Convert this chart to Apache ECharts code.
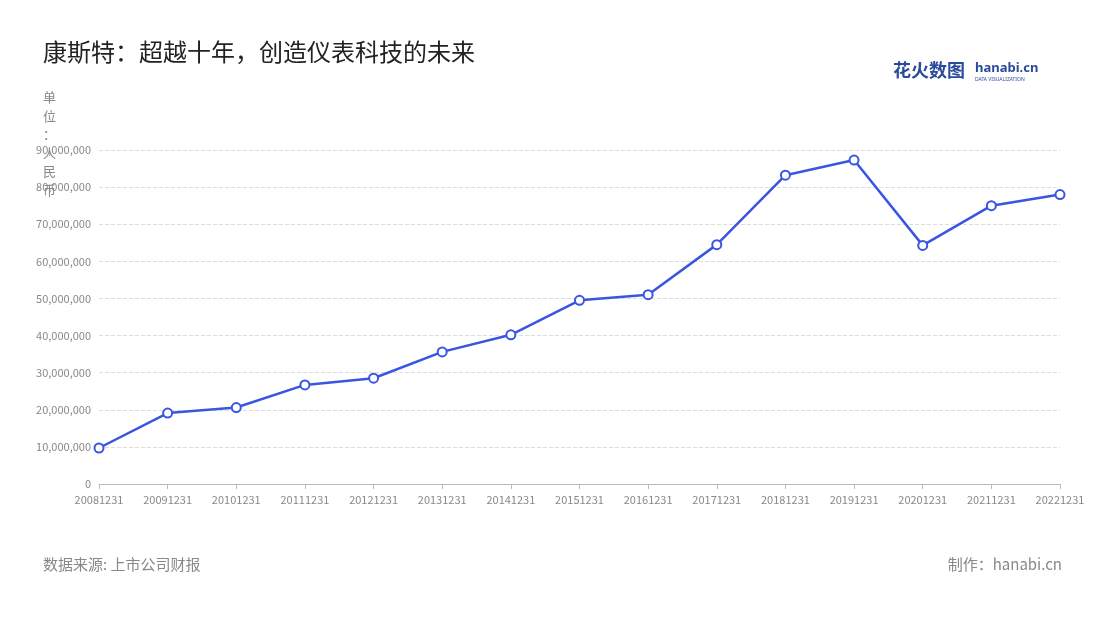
<!DOCTYPE html>
<html><head><meta charset="utf-8">
<script src="https://cdn.jsdelivr.net/npm/echarts@6/dist/echarts.min.js"></script>
<style>body{margin:0}#c{width:1100px;height:620px}</style></head>
<body><div id="c"></div>
<script>
const categories=['20081231','20091231','20101231','20111231','20121231','20131231','20141231','20151231','20161231','20171231','20181231','20191231','20201231','20211231','20221231'];
const revenue=[9700000,19100000,20600000,26700000,28500000,35600000,40200000,49500000,51000000,64500000,83200000,87300000,64300000,75000000,78000000];
const chart=echarts.init(document.getElementById('c'));
chart.setOption({
  backgroundColor:'#fff',
  textStyle:{fontFamily:'Noto Sans CJK SC'},
  graphic:[
    {type:'text',left:43,top:40,style:{text:'康斯特：超越十年，创造仪表科技的未来',fontSize:24,fill:'#222',fontFamily:'Noto Sans CJK SC'}},
    {type:'text',left:43,top:88,style:{text:'单\n位\n：\n人\n民\n币',fontSize:13,lineHeight:18.5,fill:'#888',fontFamily:'Noto Sans CJK SC'}},
    {type:'text',left:43,top:557,style:{text:'数据来源: 上市公司财报',fontSize:15,fill:'#888',fontFamily:'Noto Sans CJK SC'}},
    {type:'text',right:38,top:557,style:{text:'制作：hanabi.cn',fontSize:15,fill:'#888',fontFamily:'Noto Sans CJK SC'}},
    {type:'text',left:893,top:61,style:{text:'花火数图',fontSize:18,fontWeight:'bold',fill:'#2a4a9a',fontFamily:'Noto Sans CJK SC'}},
    {type:'text',left:975,top:62,style:{text:'hanabi.cn',fontSize:13,fontWeight:'bold',fill:'#2a4a9a',fontFamily:'Noto Sans'}},
    {type:'text',left:975,top:77,style:{text:'DATA VISUALIZATION',fontSize:5,fill:'#2a4a9a',fontFamily:'Noto Sans'}}
  ],
  grid:{left:99,right:40,top:150,bottom:136},
  xAxis:{type:'category',data:categories,boundaryGap:false,
    axisLine:{lineStyle:{color:'#bbb'}},axisTick:{show:true,alignWithLabel:true,lineStyle:{color:'#bbb'}},
    axisLabel:{color:'#888',fontSize:11,interval:0,margin:10}},
  yAxis:{type:'value',min:0,max:90000000,interval:10000000,
    axisLabel:{color:'#888',fontSize:11,formatter:v=>v.toLocaleString('en-US')},
    splitLine:{lineStyle:{type:'dashed',color:'#ddd'}},axisLine:{show:false},axisTick:{show:false}},
  series:[{type:'line',data:revenue,symbol:'circle',symbolSize:9,
    lineStyle:{color:'#3a55e0',width:2.5},
    itemStyle:{color:'#fff',borderColor:'#3a55e0',borderWidth:2}}]
});
</script></body></html>
